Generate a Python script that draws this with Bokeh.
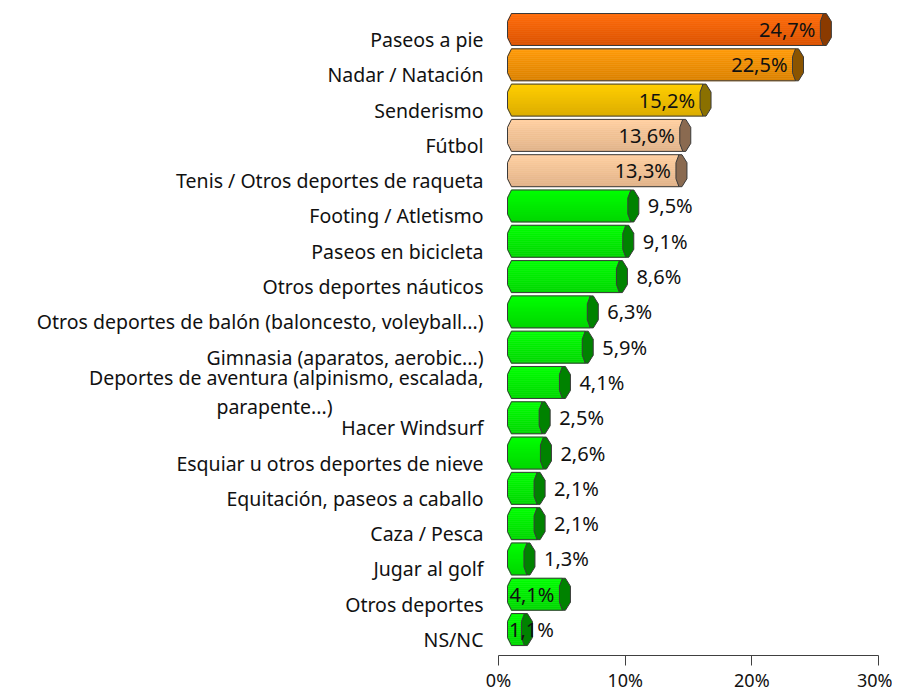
from bokeh.plotting import figure
from bokeh.models import Range1d, FixedTicker
from bokeh.core.properties import value
from bokeh.embed import file_html
from bokeh.resources import INLINE

# ---------------- data ----------------
categories = [
    "Paseos a pie",
    "Nadar / Natación",
    "Senderismo",
    "Fútbol",
    "Tenis / Otros deportes de raqueta",
    "Footing / Atletismo",
    "Paseos en bicicleta",
    "Otros deportes náuticos",
    "Otros deportes de balón (baloncesto, voleyball...)",
    "Gimnasia (aparatos, aerobic...)",
    "Deportes de aventura (alpinismo, escalada,\nparapente...)",
    "Hacer Windsurf",
    "Esquiar u otros deportes de nieve",
    "Equitación, paseos a caballo",
    "Caza / Pesca",
    "Jugar al golf",
    "Otros deportes",
    "NS/NC",
]
values = [24.7, 22.5, 15.2, 13.6, 13.3, 9.5, 9.1, 8.6, 6.3, 5.9,
          4.1, 2.5, 2.6, 2.1, 2.1, 1.3, 4.1, 1.1]
value_labels = ["24,7%", "22,5%", "15,2%", "13,6%", "13,3%", "9,5%", "9,1%",
                "8,6%", "6,3%", "5,9%", "4,1%", "2,5%", "2,6%", "2,1%",
                "2,1%", "1,3%", "4,1%", "1,1%"]
x_ticks = [0, 10, 20, 30]
x_tick_labels = ["0%", "10%", "20%", "30%"]

# ---------------- style ----------------
color_group = [0, 1, 2, 3, 3] + [4] * 13
top_colors = ["#FF6C0A", "#FF9A08", "#FFCE00", "#FFCFA0", "#00FF00"]
bot_colors = ["#DC5200", "#DC8200", "#DDAE00", "#E2B48A", "#00D800"]
cap_colors = ["#8A3A00", "#8A5400", "#8A7000", "#8A6A50", "#008200"]
label_modes = ["in"] * 5 + ["out"] * 11 + ["in", "mid"]
outline = "#3A3A3A"
FONT = "Noto Sans"

AXIS_W = 380             # pixel width of the 0-30 % axis
LEFT_PAD = 490           # pixels left of 0 % reserved for category labels
FRAME_H = 647
X_MAX = 30.0
px_x = X_MAX / AXIS_W
Y_TOP, Y_BOT = -0.595, 17.735
px_y = (Y_BOT - Y_TOP) / FRAME_H

p = figure(frame_width=AXIS_W + LEFT_PAD, frame_height=FRAME_H,
           x_range=Range1d(-LEFT_PAD * px_x, X_MAX), y_range=Range1d(Y_BOT, Y_TOP),
           min_border_left=8, min_border_right=14, min_border_top=8,
           min_border_bottom=0, output_backend="svg", toolbar_location=None,
           background_fill_color="white", border_fill_color="white")
p.outline_line_color = None
p.xgrid.visible = False
p.ygrid.visible = False
p.yaxis.visible = False

xa = p.xaxis[0]
xa.bounds = (x_ticks[0], x_ticks[-1])
xa.ticker = FixedTicker(ticks=x_ticks)
xa.major_label_overrides = {t: l for t, l in zip(x_ticks, x_tick_labels)}
xa.major_tick_in = 0
xa.major_tick_out = 10
xa.minor_tick_line_color = None
xa.axis_line_color = "#404040"
xa.major_tick_line_color = "#404040"
xa.major_label_text_font = FONT
xa.major_label_text_font_size = "18px"
xa.major_label_text_color = "#111111"
xa.major_label_standoff = 2


def hex2rgb(h):
    h = h.lstrip("#")
    return tuple(int(h[i:i + 2], 16) for i in (0, 2, 4))


def lerp(c1, c2, t):
    a, b = hex2rgb(c1), hex2rgb(c2)
    return "#%02x%02x%02x" % tuple(int(round(a[k] + (b[k] - a[k]) * t)) for k in range(3))


HALF = 16       # half bar height, px
BEV_X, BEV_Y = 4, 8
CAP_W = 11
X0 = 9 * px_x   # depth offset of bar start
N_STRIPES = 16

sl, sr, st, sb, sc = [], [], [], [], []
body_xs, body_ys, cap_xs, cap_ys, cap_fill = [], [], [], [], []
for i, v in enumerate(values):
    g = color_group[i]
    e = X0 + v
    top = i - HALF * px_y
    bot = i + HALF * px_y
    sh = 2 * HALF / N_STRIPES
    for k in range(N_STRIPES):
        d = min(k * sh + sh / 2, 2 * HALF - (k * sh + sh / 2))
        left = X0 + BEV_X * px_x * max(0.0, (BEV_Y - d) / BEV_Y)
        sl.append(left)
        sr.append(e + 3 * px_x)
        st.append(top + k * sh * px_y)
        sb.append(top + (k + 1) * sh * px_y)
        sc.append(lerp(top_colors[g], bot_colors[g], k / (N_STRIPES - 1)))
    body_xs.append([X0 + BEV_X * px_x, e + 3 * px_x, e + 3 * px_x, X0 + BEV_X * px_x, X0, X0])
    body_ys.append([top, top, bot, bot, bot - BEV_Y * px_y, top + BEV_Y * px_y])
    cap_xs.append([e + 3 * px_x, e + 6 * px_x, e + CAP_W * px_x, e + CAP_W * px_x,
                   e + 6 * px_x, e + 3 * px_x, e, e])
    cap_ys.append([top, top, top + BEV_Y * px_y, bot - BEV_Y * px_y, bot, bot,
                   bot - BEV_Y * px_y, top + BEV_Y * px_y])
    cap_fill.append(cap_colors[g])

p.quad(left=sl, right=sr, top=st, bottom=sb, fill_color=sc, line_color=sc, line_width=0.6)
p.patches(xs=body_xs, ys=body_ys, fill_color=None, line_color=outline, line_width=1)
p.patches(xs=cap_xs, ys=cap_ys, fill_color=cap_fill, line_color=outline, line_width=1)

# value labels
lx, ly, lt, la = [], [], [], []
for i, (v, t, m) in enumerate(zip(values, value_labels, label_modes)):
    e = X0 + v
    if m == "in":
        lx.append(e - 5 * px_x); la.append("right")
    elif m == "out":
        lx.append(e + 20 * px_x); la.append("left")
    else:
        lx.append(e + 10 * px_x); la.append("center")
    ly.append(i)
    lt.append(t)
p.text(x=lx, y=ly, text=lt, text_align=la, text_baseline="middle",
       text_font=value(FONT), text_font_size="20px", text_color="#111111")

# category labels (left side)
LINE_GAP = 29
cx, cy, ct, ca = [], [], [], []
for i, c in enumerate(categories):
    lines = c.split("\n")
    n = len(lines)
    for j, line in enumerate(lines):
        off = 10 + (j - (n - 1) / 2) * LINE_GAP
        cy.append(i + off * px_y)
        ct.append(line)
        if j == 0:
            cx.append(-15 * px_x); ca.append("right")
        else:
            cx.append(-224 * px_x); ca.append("center")
p.text(x=cx, y=cy, text=ct, text_align=ca, text_baseline="middle",
       text_font=value(FONT), text_font_size="19.5px", text_color="#111111")

open("out.html", "w").write(file_html(p, INLINE))
